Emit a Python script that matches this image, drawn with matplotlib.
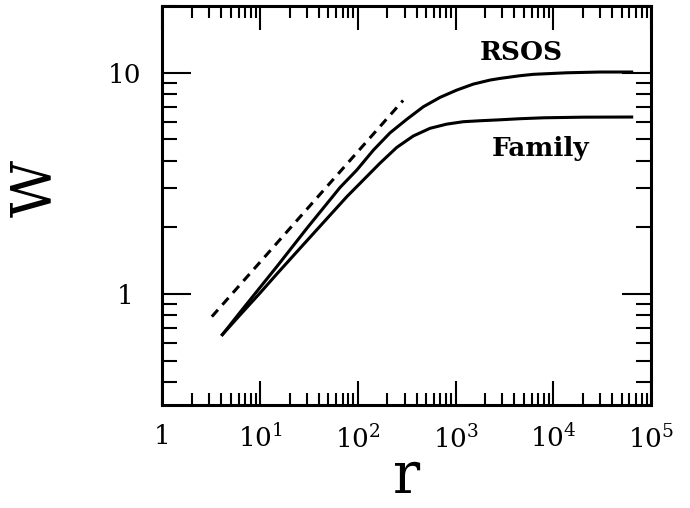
import numpy as np
import matplotlib
matplotlib.use("Agg")
import matplotlib.pyplot as plt
from matplotlib.ticker import FixedLocator, NullFormatter

plt.rcParams["font.family"] = "DejaVu Serif"
plt.rcParams["mathtext.fontset"] = "dejavuserif"

# valores
r_rsos = [4.1, 6.0, 9.95, 15, 30, 65.6, 97.2, 144, 213, 316, 467, 692, 1026,
          1518, 2250, 2846, 4560, 6240, 13700, 30000, 63400]
w_rsos = [0.655, 0.81, 1.07, 1.34, 1.98, 3.03, 3.63, 4.47, 5.35, 6.16, 7.02, 7.74, 8.35,
          8.89, 9.27, 9.43, 9.70, 9.84, 10.0, 10.08, 10.08]

r_family = [4.1, 6.0, 9.95, 15, 30, 76.8, 114, 168, 250, 369, 547, 811, 1200,
            1778, 2846, 4560, 8000, 20000, 63400]
w_family = [0.655, 0.79, 1.01, 1.24, 1.74, 2.75, 3.28, 3.90, 4.60, 5.18, 5.61, 5.86, 6.01,
            6.07, 6.13, 6.20, 6.26, 6.30, 6.31]

r_dash = [3.2, 290]
w_dash = [0.79, 7.5]

xticks = [1, 10, 100, 1000, 10000, 100000]
xlabels = ["1", "$10^{1}$", "$10^{2}$", "$10^{3}$", "$10^{4}$", "$10^{5}$"]
yticks = [1, 10]
ylabels = ["1", "10"]

fig = plt.figure(figsize=(6.9, 5.08), dpi=100)
ax = fig.add_axes([0.2355, 0.2028, 0.708, 0.785])

ax.plot(r_rsos, w_rsos, color="black", lw=2.2)
ax.plot(r_family, w_family, color="black", lw=2.2)
ax.plot(r_dash, w_dash, color="black", lw=2.2, linestyle=(0, (3, 2.2)))

ax.set_xscale("log")
ax.set_yscale("log")
ax.set_xlim(1, 1e5)
ax.set_ylim(0.315, 20)

ax.text(0.734, 0.885, "RSOS", fontsize=19, fontweight="bold", ha="center", va="center",
        transform=ax.transAxes)
ax.text(0.773, 0.644, "Family", fontsize=19, fontweight="bold", ha="center", va="center",
        transform=ax.transAxes)

ax.set_xticks(xticks)
ax.set_xticklabels(xlabels, fontsize=19)
ax.set_yticks(yticks)
ax.set_yticklabels(ylabels, fontsize=19, ha="center")
xminor = [m * 10**d for d in range(5) for m in range(2, 10)]
yminor = [m * 0.1 for m in range(3, 10)] + [m for m in range(2, 10)] + [20]
ax.xaxis.set_minor_locator(FixedLocator(xminor))
ax.yaxis.set_minor_locator(FixedLocator(yminor))
ax.xaxis.set_minor_formatter(NullFormatter())
ax.yaxis.set_minor_formatter(NullFormatter())

ax.tick_params(axis="both", which="both", direction="in", top=True, right=True, width=1.5)
ax.tick_params(axis="x", which="major", length=17, pad=14)
ax.tick_params(axis="x", which="minor", length=8.5)
ax.tick_params(axis="y", which="major", length=21, pad=27)
ax.tick_params(axis="y", which="minor", length=10.5)
for s in ax.spines.values():
    s.set_linewidth(2.2)

ax.set_xlabel("r", fontsize=41, va="bottom")
ax.xaxis.set_label_coords(0.5, -0.252)
ax.set_ylabel("W", fontsize=40, va="center")
ax.yaxis.set_label_coords(-0.259, 0.544)

fig.savefig("out.png", dpi=100)
